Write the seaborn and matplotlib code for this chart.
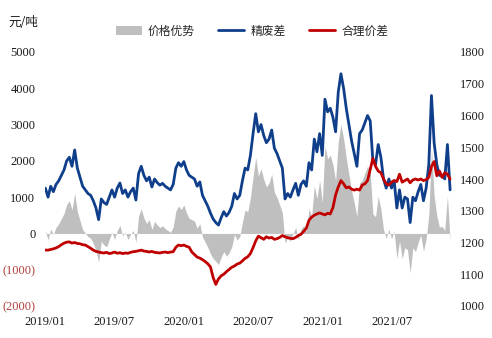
import pandas as pd
import matplotlib
matplotlib.use("Agg")
import matplotlib.pyplot as plt
import matplotlib.dates as mdates
from matplotlib.patches import Patch
from matplotlib.lines import Line2D
import seaborn as sns

# Weekly observations, 元/吨
dates = pd.date_range("2019-01-02", periods=153, freq="7D")

# 精废差 (left axis)
spread = [
    1250, 1000, 1300, 1150, 1350, 1450, 1600, 1750, 2000, 2100,
    1850, 2300, 1800, 1550, 1300, 1200, 1100, 1050, 900, 700,
    380, 950, 850, 800, 1000, 1200, 1000, 1250, 1390, 1100,
    1200, 1000, 1150, 1250, 920, 1650, 1850, 1600, 1450, 1550,
    1280, 1500, 1400, 1330, 1380, 1300, 1250, 1200, 1350, 1800,
    1950, 1850, 1980, 1750, 1600, 1550, 1500, 1300, 1420, 1050,
    900, 750, 560, 400, 300, 230, 430, 600, 480, 580,
    750, 1100, 950, 1050, 1450, 1800, 1750, 2150, 2750, 3300,
    2800, 3000, 2700, 2500, 2600, 2850, 2350, 2200, 2000, 1800,
    950, 1100, 1000, 1200, 1380, 1050, 1350, 1450, 1300, 1950,
    1750, 2600, 2250, 2750, 2150, 3700, 3350, 3450, 3200, 2800,
    3900, 4400, 4000, 3450, 3000, 2550, 2200, 1850, 2750, 2850,
    3050, 3250, 3100, 2000, 1900, 2450, 2100, 1500, 1250, 1500,
    1250, 1450, 700, 1200, 700, 1000, 950, 300, 1000, 900,
    1150, 1350, 900, 1250, 1900, 3800, 2500, 1900, 1600, 1600,
    1500, 2450, 1200,
]

# 合理价差 (right axis)
fair_spread = [
    1176, 1176, 1178, 1180, 1183, 1187, 1193, 1198, 1201, 1202,
    1198, 1200, 1197, 1196, 1193, 1192, 1187, 1182, 1176, 1172,
    1170, 1168, 1167, 1169, 1165, 1167, 1170, 1166, 1168, 1165,
    1167, 1166, 1169, 1171, 1172, 1174, 1176, 1173, 1172, 1170,
    1172, 1169, 1168, 1167, 1169, 1170, 1168, 1170, 1171, 1185,
    1192, 1190, 1192, 1188, 1185, 1170, 1162, 1154, 1151, 1146,
    1140, 1133, 1123, 1090, 1068, 1085, 1095, 1100, 1108, 1115,
    1122, 1126, 1132, 1135, 1142, 1150, 1155, 1165, 1184, 1205,
    1220, 1215, 1210, 1218, 1214, 1216, 1210, 1212, 1216, 1222,
    1218, 1215, 1213, 1212, 1216, 1222, 1226, 1235, 1245, 1270,
    1280, 1286, 1290, 1293, 1290, 1287, 1292, 1290, 1310, 1350,
    1375, 1395, 1385, 1372, 1375, 1368, 1365, 1368, 1365, 1381,
    1385, 1395, 1430, 1465, 1440, 1425, 1420, 1400, 1385, 1381,
    1390, 1395, 1392, 1415, 1390, 1395, 1400, 1388, 1397, 1400,
    1397, 1400, 1395, 1398, 1405, 1440, 1455, 1410, 1425, 1405,
    1420, 1415, 1400,
]

left_ticks = [-2000, -1000, 0, 1000, 2000, 3000, 4000, 5000]
right_ticks = [1000, 1100, 1200, 1300, 1400, 1500, 1600, 1700, 1800]
x_ticks = ["2019-01-01", "2019-07-01", "2020-01-01", "2020-07-01",
           "2021-01-01", "2021-07-01"]

labels = {"adv": "价格优势", "spread": "精废差", "fair": "合理价差"}
colors = {"adv": "#BFBFBF", "spread": "#0F3F8A", "fair": "#C00000"}

sns.set_theme(style="white")
plt.rcParams["font.family"] = ["Noto Sans CJK SC", "DejaVu Sans"]
serif = "Liberation Serif"

df = pd.DataFrame({"date": dates, "spread": spread, "fair": fair_spread})
df["advantage"] = df["spread"] - df["fair"]

W, H = 492, 338
fig = plt.figure(figsize=(W / 100, H / 100), dpi=100)
ax = fig.add_axes([45 / W, 1 - 306 / H, (452 - 45) / W, (306 - 52) / H])

ax.fill_between(df["date"], 0, df["advantage"], color=colors["adv"],
                linewidth=0, zorder=1)
sns.lineplot(data=df, x="date", y="spread", ax=ax, color=colors["spread"],
             linewidth=2.0, zorder=3)

ax2 = ax.twinx()
sns.lineplot(data=df, x="date", y="fair", ax=ax2, color=colors["fair"],
             linewidth=2.0, zorder=3)

ax.set_xlim(pd.Timestamp("2019-01-01"), pd.Timestamp("2021-12-06"))
ax.set_ylim(-2000, 5000)
ax2.set_ylim(1000, 1800)

for a in (ax, ax2):
    a.set_xlabel("")
    a.set_ylabel("")
    for s in a.spines.values():
        s.set_visible(False)
    a.tick_params(length=0)
    a.grid(False)

ax.set_xticks([pd.Timestamp(d) for d in x_ticks])
ax.xaxis.set_major_formatter(mdates.DateFormatter("%Y/%m"))
ax.tick_params(axis="x", pad=7)
for t in ax.get_xticklabels():
    t.set_fontfamily(serif)
    t.set_fontsize(9)
    t.set_color("#1a1a1a")

ax.set_yticks(left_ticks)
ax.set_yticklabels([f"({-v})" if v < 0 else f"{v}" for v in left_ticks])
ax.tick_params(axis="y", pad=7)
for v, t in zip(left_ticks, ax.get_yticklabels()):
    t.set_fontfamily(serif)
    t.set_fontsize(9)
    t.set_color("#B0413E" if v < 0 else "#1a1a1a")

ax2.set_yticks(right_ticks)
ax2.set_yticklabels([str(v) for v in right_ticks])
ax2.tick_params(axis="y", pad=6)
for t in ax2.get_yticklabels():
    t.set_fontfamily(serif)
    t.set_fontsize(9)
    t.set_color("#1a1a1a")

fig.text(8 / W, 1 - 22 / H, "元/吨", fontsize=9, va="center", ha="left",
         color="#1a1a1a")

handles = [
    Patch(facecolor=colors["adv"], edgecolor="none", label=labels["adv"]),
    Line2D([], [], color=colors["spread"], linewidth=2.0, label=labels["spread"]),
    Line2D([], [], color=colors["fair"], linewidth=2.0, label=labels["fair"]),
]
fig.legend(handles=handles, loc="center", bbox_to_anchor=(252 / W, 1 - 31 / H),
           ncol=3, frameon=False, fontsize=8.5, handlelength=2.2,
           handletextpad=0.5, columnspacing=2.0)

fig.savefig("out.png", dpi=100)
